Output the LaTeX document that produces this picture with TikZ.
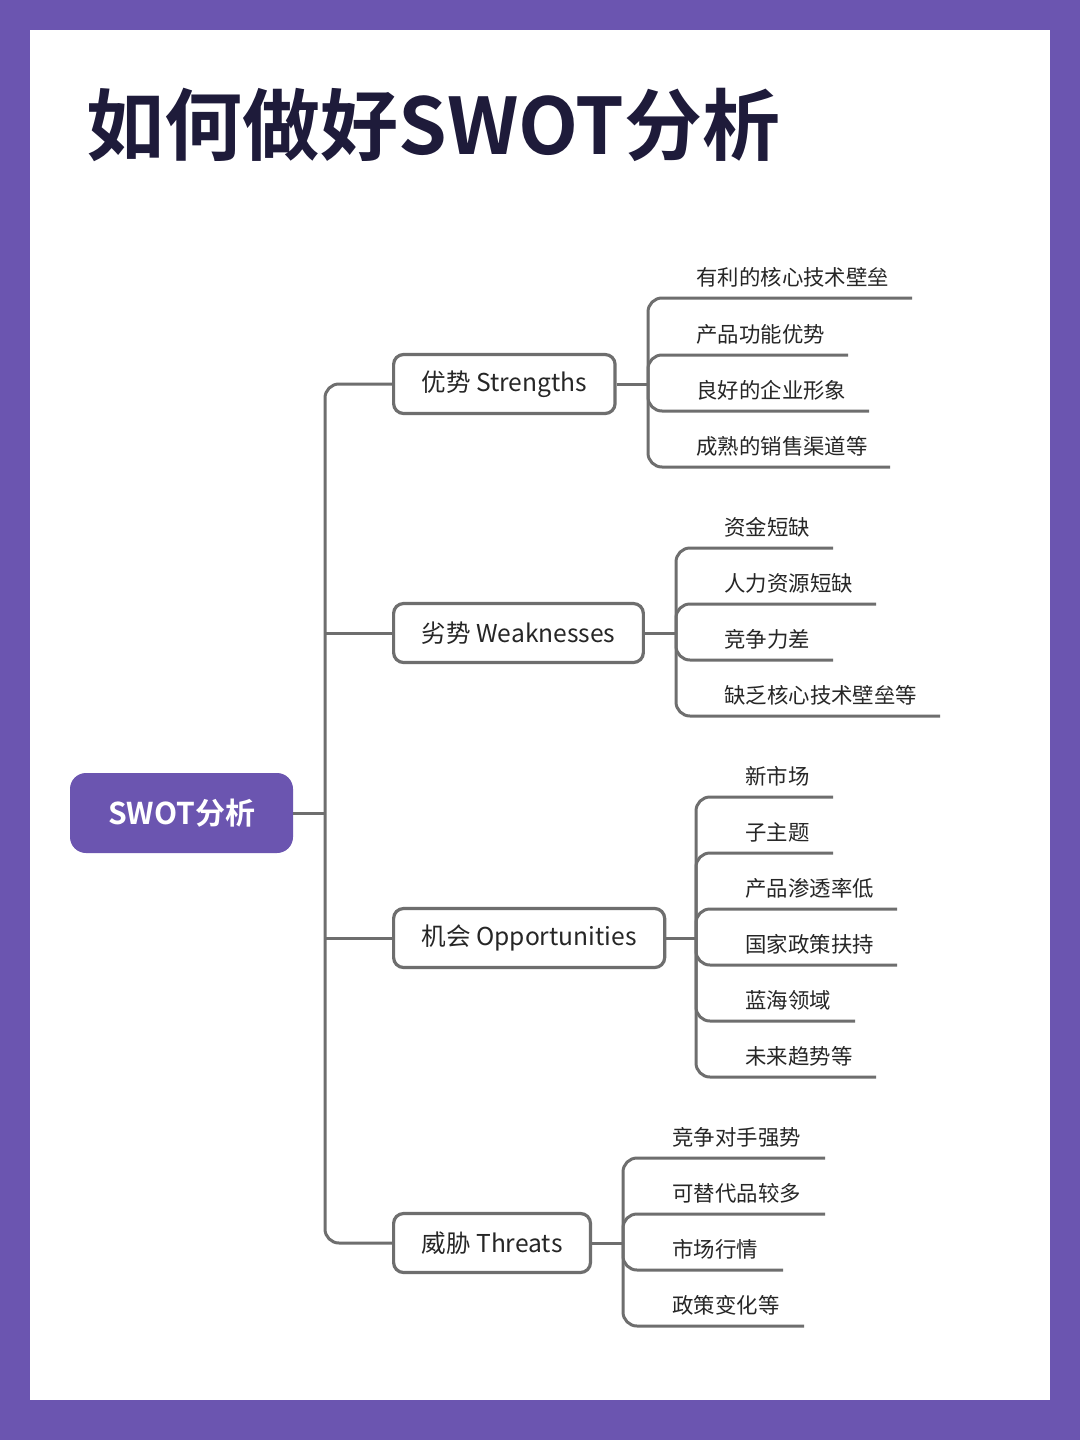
\documentclass[tikz,border=0pt]{standalone}
\usepackage{fontspec}
\setmainfont{Noto Sans CJK SC}
\newfontfamily\cjkb{Noto Sans CJK SC Bold}
\definecolor{pur}{HTML}{6B55B0}
\definecolor{navy}{HTML}{1E1B3A}
\definecolor{gl}{HTML}{6E6E6E}
\tikzset{
 conn/.style={draw=gl,line width=1.5pt,rounded corners=7pt},
 br/.style={draw=gl,line width=1.6pt,fill=white,rounded corners=5pt,minimum height=29.5pt,inner xsep=14pt,font=\fontsize{12.3}{14}\selectfont,text=black!85},
 lf/.style={anchor=west,inner sep=0pt,font=\fontsize{10.7}{13}\selectfont,text=black!85},
}
\begin{document}
\begin{tikzpicture}[x=0.5pt,y=-0.5pt]
\useasboundingbox (0,0) rectangle (1080,1440);
\fill[pur] (0,0) rectangle (1080,1440);
\fill[white] (30,30) rectangle (1050,1400);
\node[anchor=west,inner sep=0pt,text=navy,font=\cjkb\fontsize{39}{44}\selectfont] (title) at (86,125) {如何做好SWOT分析};
\node[fill=pur,rounded corners=8pt,minimum width=111.5pt,minimum height=40pt,text=white,font=\cjkb\fontsize{15}{17}\selectfont] (root) at (181.5,813) {SWOT分析};
\node[br,anchor=west] (S) at (392,384) {优势 Strengths};
\node[br,anchor=west] (W) at (392,633) {劣势 Weaknesses};
\node[br,anchor=west] (O) at (392,938) {机会 Opportunities};
\node[br,anchor=west] (T) at (392,1243) {威胁 Threats};
\coordinate (tr) at (325,813);
\draw[conn,rounded corners=0pt] (root.east) -- (tr);
\draw[conn] (S.west) -| (tr) |- (T.west);
\draw[conn] (tr |- W.west) -- (W.west);
\draw[conn] (tr |- O.west) -- (O.west);
% leaves
\foreach \br/\bx/\tx/\list in {
 S/648/696/{298/912/有利的核心技术壁垒,355/848/产品功能优势,411/869/良好的企业形象,467/890/成熟的销售渠道等},
 W/676/724/{548/833/资金短缺,604/876/人力资源短缺,660/833/竞争力差,716/940/缺乏核心技术壁垒等},
 O/696/745/{797/833/新市场,853/833/子主题,909/897/产品渗透率低,965/897/国家政策扶持,1021/855/蓝海领域,1077/876/未来趋势等},
 T/623/672/{1158/825/竞争对手强势,1214/825/可替代品较多,1270/783/市场行情,1326/804/政策变化等}}{
 \draw[conn] (\br.east) -- (\bx,0 |- \br.east);
 \foreach \y/\e/\t in \list {
  \coordinate (le) at (\e,\y);
  \draw[conn] (\bx,0 |- \br.east) -- (\bx,\y) -- (le);
  \node[lf] at (\tx,\y-21) {\t};
 }
}
\end{tikzpicture}
\end{document}
